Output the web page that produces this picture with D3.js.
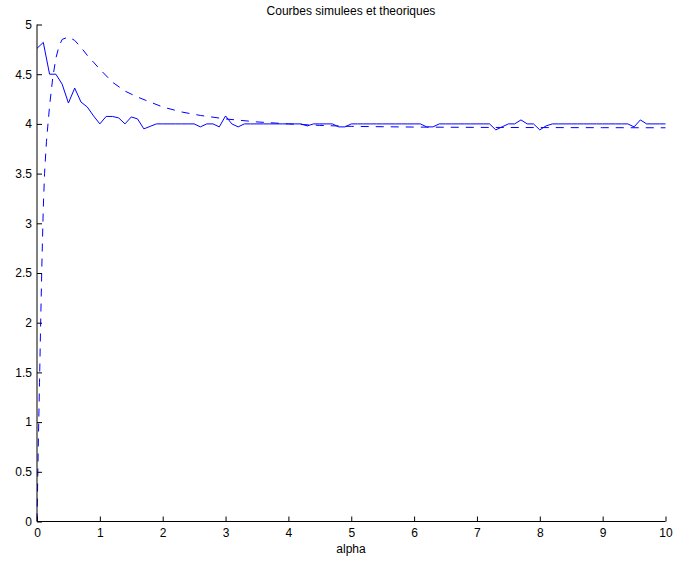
<!DOCTYPE html>
<html>
<head>
<meta charset="utf-8">
<script src="https://cdn.jsdelivr.net/npm/d3@7"></script>
<style>
  html, body { margin: 0; padding: 0; background: #fff; }
  text { font-family: "Liberation Sans", Arial, Helvetica, sans-serif; fill: #000; }
</style>
</head>
<body>
<svg id="chart" width="673" height="561"></svg>
<script>
// ---- data ----
const chartTitle = "Courbes simulees et theoriques";
const xLabel = "alpha";
const xTicks = [0, 1, 2, 3, 4, 5, 6, 7, 8, 9, 10];
const yTicks = [0, 0.5, 1, 1.5, 2, 2.5, 3, 3.5, 4, 4.5, 5];

// simulated curve (solid), alpha = 0, 0.1, ..., 10
const alphaSim = d3.range(0, 101).map(i => +(i / 10).toFixed(1));
const valSim = [
  4.76, 4.82, 4.50, 4.50, 4.40, 4.21, 4.36, 4.22, 4.17, 4.08,
  4.00, 4.075, 4.075, 4.06, 4.00, 4.07, 4.05, 3.95, 3.975, 4.00,
  4.00, 4.00, 4.00, 4.00, 4.00, 4.00, 3.97, 4.00, 4.00, 3.97,
  4.08, 4.00, 3.97, 4.00, 4.00, 4.00, 4.00, 4.00, 4.00, 4.00,
  4.00, 4.00, 4.00, 3.98, 4.00, 4.00, 4.00, 4.00, 3.97, 3.97,
  4.00, 4.00, 4.00, 4.00, 4.00, 4.00, 4.00, 4.00, 4.00, 4.00,
  4.00, 4.00, 3.97, 3.97, 4.00, 4.00, 4.00, 4.00, 4.00, 4.00,
  4.00, 4.00, 4.00, 3.94, 3.97, 4.00, 4.00, 4.04, 4.00, 4.00,
  3.94, 3.98, 4.00, 4.00, 4.00, 4.00, 4.00, 4.00, 4.00, 4.00,
  4.00, 4.00, 4.00, 4.00, 4.00, 3.97, 4.04, 4.00, 4.00, 4.00,
  4.00
];

// theoretical curve (dashed)
const alphaTheo = [0, 0.02, 0.04, 0.06, 0.08, 0.1, 0.12, 0.15, 0.2, 0.25, 0.3, 0.35, 0.4, 0.5,
  0.6, 0.7, 0.8, 0.9, 1.0, 1.2, 1.4, 1.6, 1.8, 2.0, 2.3, 2.6, 3.0, 3.5, 4.0, 4.5, 5, 6, 7, 8, 9, 10];
const valTheo = [0, 0.75, 1.4, 2.05, 2.65, 3.15, 3.5, 3.82, 4.18, 4.46, 4.66, 4.78, 4.85, 4.875,
  4.84, 4.77, 4.69, 4.62, 4.55, 4.42, 4.33, 4.27, 4.22, 4.17, 4.12, 4.085, 4.05, 4.02, 4.0, 3.985,
  3.975, 3.968, 3.965, 3.963, 3.962, 3.961];

// ---- drawing ----
const svg = d3.select("#chart");
const x = d3.scaleLinear().domain([0, 10]).range([37, 665.5]);
const y = d3.scaleLinear().domain([0, 5]).range([521.5, 24.5]);

const line = d3.line().x(d => x(d[0])).y(d => y(d[1]));

svg.append("path")
  .datum(alphaTheo.map((a, i) => [a, valTheo[i]]))
  .attr("d", line)
  .attr("fill", "none")
  .attr("stroke", "#0000ff")
  .attr("stroke-width", 1)
  .attr("stroke-dasharray", "8,7");

svg.append("path")
  .datum(alphaSim.map((a, i) => [a, valSim[i]]))
  .attr("d", line)
  .attr("fill", "none")
  .attr("stroke", "#0000ff")
  .attr("stroke-width", 1);

// axes (ticks pointing inward)
const xAxis = d3.axisBottom(x).tickValues(xTicks).tickFormat(d3.format("d"))
  .tickSizeInner(-5).tickSizeOuter(0).tickPadding(7);
const gx = svg.append("g").attr("transform", "translate(0,521.5)").call(xAxis);
gx.select(".domain").attr("stroke", "#000").attr("d", `M${x(0)},0H${x(10)}`);
gx.selectAll("text").style("font-size", "12px");
gx.selectAll("line").attr("stroke", "#000");

const yAxis = d3.axisLeft(y).tickValues(yTicks).tickFormat(d => String(d))
  .tickSizeInner(-5).tickSizeOuter(0).tickPadding(5);
const gy = svg.append("g").attr("transform", "translate(37,0)").call(yAxis);
gy.select(".domain").attr("stroke", "#000").attr("stroke-width", 1).attr("d", `M0,${y(0)}V${y(5)}`);
gy.selectAll("text").style("font-size", "12px");
gy.selectAll("line").attr("stroke", "#000");
svg.selectAll("g").attr("font-family", null).attr("font-size", null);

svg.append("text")
  .attr("x", 351).attr("y", 15)
  .attr("text-anchor", "middle")
  .style("font-size", "12px")
  .text(chartTitle);

svg.append("text")
  .attr("x", 351).attr("y", 553)
  .attr("text-anchor", "middle")
  .style("font-size", "12px")
  .text(xLabel);
</script>
</body>
</html>
